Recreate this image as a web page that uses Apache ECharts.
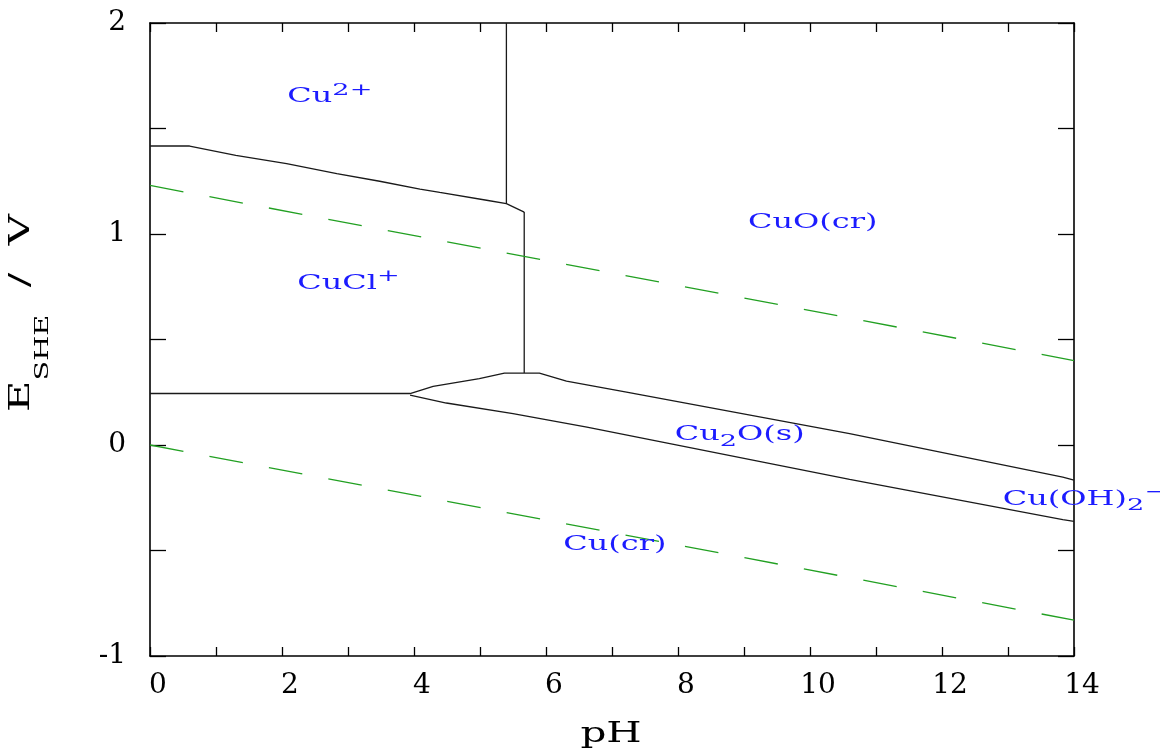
<!DOCTYPE html>
<html>
<head>
<meta charset="utf-8">
<script src="https://cdn.jsdelivr.net/npm/echarts@6/dist/echarts.min.js"></script>
<style>
  html, body { margin: 0; padding: 0; background: #fff; }
  #chart { width: 1160px; height: 749px; }
</style>
</head>
<body>
<div id="chart"></div>
<script>
// tick labels
const xLabelValues = [0, 2, 4, 6, 8, 10, 12, 14]
const yLabelValues = [-1, 0, 1, 2]

// boundary lines, [pH, E/V]
const cu2CuclLine = [[0, 1.417], [0.6, 1.417], [1.3, 1.373], [2.07, 1.334], [2.83, 1.286], [3.48, 1.25],
  [4.09, 1.213], [4.39, 1.197], [5.1, 1.16], [5.4, 1.144], [5.67, 1.104]]
const cu2CuoWall = [[5.4, 2], [5.4, 1.144]]
const cuclCuoWall = [[5.67, 1.104], [5.67, 0.341]]
const cuclCuFloor = [[0, 0.244], [3.94, 0.244]]
const cu2oUpper = [[3.94, 0.244], [4.29, 0.278], [4.99, 0.315], [5.37, 0.341], [5.9, 0.341], [6.31, 0.303],
  [7.22, 0.251], [10.6, 0.054], [13.83, -0.152], [14, -0.167]]
const cu2oLower = [[3.94, 0.236], [4.49, 0.199], [5.5, 0.149], [6.62, 0.085], [10.6, -0.163],
  [13.83, -0.354], [14, -0.362]]

// water stability lines
const o2Line = [[0, 1.23], [14, 0.4]]
const h2Line = [[0, 0], [14, -0.83]]

// region names and where they sit
const regionNames = ['{m|Cu}{p|2+}', '{m|CuCl}{p|+}', '{m|CuO(cr)}', '{m|Cu}{b|2}{m|O(s)}', '{m|Cu(OH)}{b|2}{p|\u2212}', '{m|Cu(cr)}']
const regionAt = [[2.08, 1.648], [2.23, 0.766], [9.06, 1.055], [7.95, 0.046], [12.92, -0.258], [6.26, -0.473]]

const FONT = 'DejaVu Serif'
const BLUE = '#1c1cff'

const axisBase = (extra) => ({
  type: 'value',
  axisLine: { show: true, onZero: false, lineStyle: { color: '#000', width: 1.6 } },
  splitLine: { show: false },
  ...extra
})

const option = {
  animation: false,
  grid: { left: 150, right: 86, top: 23, bottom: 93 },
  xAxis: [
    axisBase({
      position: 'bottom',
      min: 0,
      max: 14,
      interval: 1,
      axisTick: { inside: true, length: 9, lineStyle: { color: '#000', width: 1.3 } },
      axisLabel: {
        margin: 16,
        padding: [0, 0, 0, 16],
        fontFamily: FONT,
        fontSize: 28,
        color: '#000',
        formatter: v => xLabelValues.includes(v) ? String(v) : ''
      }
    }),
    axisBase({
      position: 'top',
      min: 0,
      max: 14,
      interval: 1,
      axisTick: { inside: true, length: 9, lineStyle: { color: '#000', width: 1.3 } },
      axisLabel: { show: false }
    })
  ],
  yAxis: [
    axisBase({
      position: 'left',
      min: -1,
      max: 2,
      interval: 0.5,
      axisTick: { inside: true, length: 16, lineStyle: { color: '#000', width: 1.3 } },
      axisLabel: {
        margin: 24,
        fontFamily: FONT,
        fontSize: 28,
        color: '#000',
        formatter: v => yLabelValues.includes(v) ? String(v) : ''
      }
    }),
    axisBase({
      position: 'right',
      min: -1,
      max: 2,
      interval: 0.5,
      axisTick: { inside: true, length: 16, lineStyle: { color: '#000', width: 1.3 } },
      axisLabel: { show: false }
    })
  ],
  series: [
    ...[cu2CuclLine, cu2CuoWall, cuclCuoWall, cuclCuFloor, cu2oUpper, cu2oLower].map(d => ({
      type: 'line',
      data: d,
      showSymbol: false,
      silent: true,
      lineStyle: { color: '#1a1a1a', width: 1.3 }
    })),
    ...[o2Line, h2Line].map(d => ({
      type: 'line',
      data: d,
      showSymbol: false,
      silent: true,
      lineStyle: { color: '#22a022', width: 1.3, type: [34, 26.5] }
    }))
  ]
}

const chart = echarts.init(document.getElementById('chart'))
chart.setOption(option)

const labelRich = {
  m: { fontFamily: FONT, fontSize: 20, lineHeight: 30, fill: BLUE },
  p: { fontFamily: FONT, fontSize: 17, lineHeight: 24, verticalAlign: 'top', fill: BLUE },
  b: { fontFamily: FONT, fontSize: 17, lineHeight: 9, verticalAlign: 'bottom', fill: BLUE }
}

const graphic = regionNames.map((t, i) => {
  const p = chart.convertToPixel({ xAxisIndex: 0, yAxisIndex: 0 }, regionAt[i])
  return {
    type: 'text',
    x: p[0],
    y: p[1],
    scaleX: 1.6,
    z: 100,
    style: { text: t, rich: labelRich, fill: BLUE, fontFamily: FONT, fontSize: 20, align: 'left', verticalAlign: 'middle' }
  }
})

// axis titles
graphic.push({
  type: 'text',
  x: 611,
  y: 735,
  scaleX: 1.5,
  style: { text: 'pH', fill: '#000', fontFamily: FONT, fontSize: 27, align: 'center', verticalAlign: 'middle' }
})
graphic.push({
  type: 'text',
  x: 22,
  y: 313,
  rotation: Math.PI / 2,
  scaleX: 1.6,
  style: {
    text: '{e|E}{s|SHE}{e|  /  V}',
    fill: '#000',
    fontFamily: FONT,
    fontSize: 27,
    align: 'center',
    verticalAlign: 'middle',
    rich: {
      e: { fontFamily: FONT, fontSize: 27, lineHeight: 60, fill: '#000' },
      s: { fontFamily: FONT, fontSize: 18, lineHeight: 12, verticalAlign: 'bottom', fill: '#000' }
    }
  }
})

chart.setOption({ graphic })
</script>
</body>
</html>
